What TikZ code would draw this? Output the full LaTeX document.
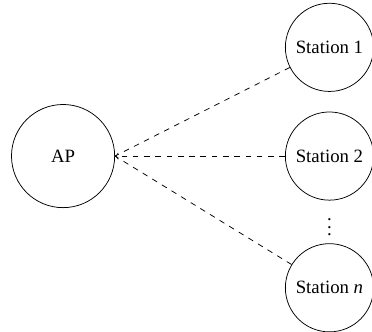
\documentclass[tikz,border=0pt]{standalone}
\usepackage{fontspec}
\setmainfont{Liberation Serif}
\usetikzlibrary{positioning,calc}
\tikzset{
  apnode/.style={draw, circle, minimum size=1.93cm, inner sep=0pt},
  stanode/.style={draw, circle, minimum size=1.65cm, inner sep=0pt},
  link/.style={dashed}
}

\begin{document}
\begin{tikzpicture}[node distance=0.37cm]
  \useasboundingbox (-1.18,-3.29) rectangle (5.78,2.92);
  \node[apnode] (ap) at (0,0) {AP};
  \node[stanode, right=3.18cm of ap] (s2) {Station 2};
  \node[stanode, above=of s2] (s1) {Station 1};
  \node[stanode, below=0.8cm of s2] (sn) {Station \textit{n}};
  \node (dots) at ($(s2)!0.5!(sn)$) {$\vdots$};
  \draw[link] (s1) -- (ap.east);
  \draw[link, ->] (s2) -- (ap.east);
  \draw[link] (sn) -- (ap.east);
\end{tikzpicture}
\end{document}
